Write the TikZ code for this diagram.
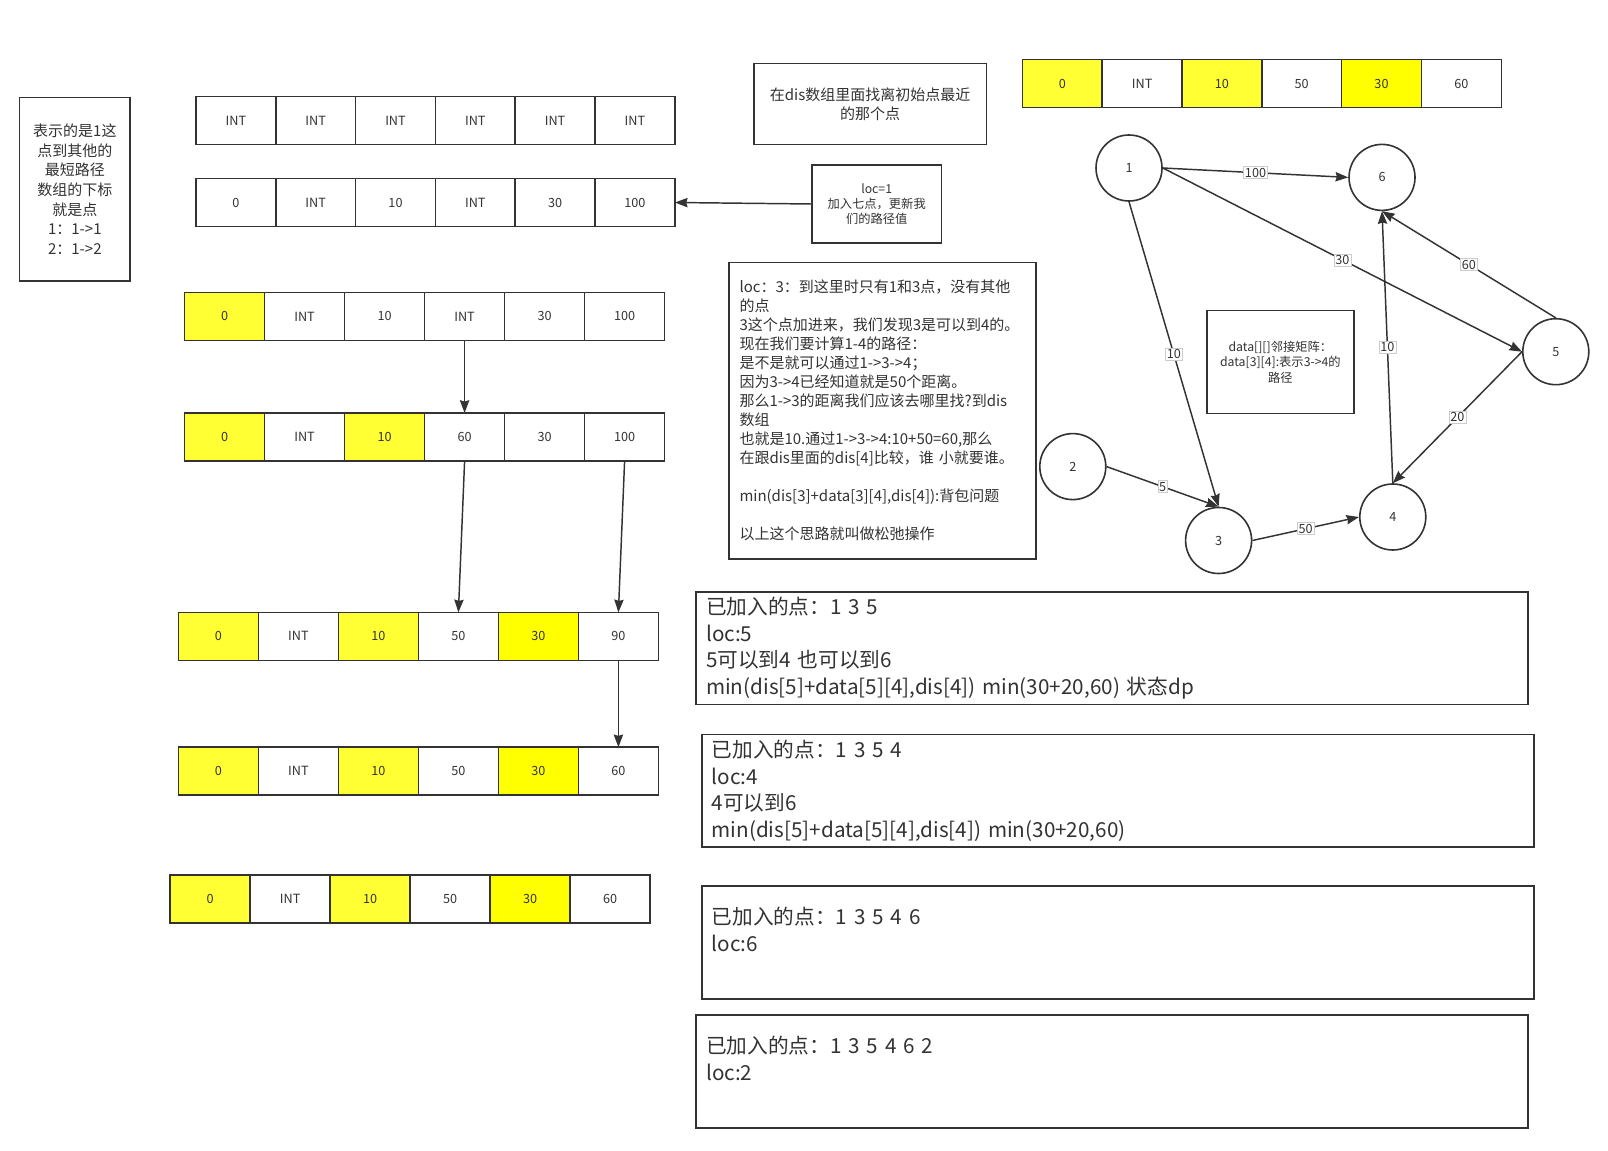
\documentclass[tikz,border=0pt]{standalone}
\usepackage{fontspec}
\setmainfont{Noto Sans CJK SC}
\usetikzlibrary{arrows.meta}
\definecolor{ink}{HTML}{333333}
\definecolor{yel}{HTML}{FFFF33}
\definecolor{yelb}{HTML}{FFFF00}

\begin{document}
\begin{tikzpicture}[x=0.75pt,y=-0.75pt,
      cell/.style={draw=ink, line width=1.2pt, minimum width=60pt, minimum height=36pt,
        inner sep=0pt, outer sep=0pt, text=ink, font=\fontsize{9.5pt}{11pt}\selectfont},
      vtx/.style={draw=ink, line width=1.2pt, circle, minimum size=49.5pt, inner sep=0pt,
        text=ink, font=\fontsize{9.5pt}{11pt}\selectfont},
      note/.style={draw=ink, line width=1.2pt, inner sep=0pt, text=ink, align=center},
      step box/.style={note, align=left, inner xsep=7.5pt, text width=609pt, minimum height=84.5pt,
        font=\fontsize{15.5pt}{20pt}\selectfont},
      arr/.style={draw=ink, line width=1.1pt, -{Stealth[length=9.5pt, width=7pt, inset=1pt]}},
      elab/.style={fill=white, draw=gray!40, line width=0.4pt, inner sep=1pt, text=ink,
        font=\fontsize{9.5pt}{10pt}\selectfont}]
    \path[use as bounding box, fill=white] (0,0) rectangle (1608,1151);

    \node[note, minimum width=83pt, minimum height=137.7pt, font=\fontsize{11.25pt}{14.8pt}\selectfont]
      (legend) at (74.85,189.2) {表示的是1这\\点到其他的\\最短路径\\数组的下标\\就是点\\1：1->1\\2：1->2};

    \foreach \v/\fc [count=\i] in {INT/white,INT/white,INT/white,INT/white,INT/white,INT/white}
      \node[cell, fill=\fc] (a\i) at ({196+(\i-0.5)*79.8},120.5) {\v};
    \foreach \v/\fc [count=\i] in {0/white,INT/white,10/white,INT/white,30/white,100/white}
      \node[cell, fill=\fc] (b\i) at ({196+(\i-0.5)*79.8},202.5) {\v};
    \foreach \v/\fc [count=\i] in {0/yel,INT/white,10/white,INT/white,30/white,100/white}
      \node[cell, fill=\fc] (c\i) at ({184.6+(\i-0.5)*80},316.4) {\v};
    \foreach \v/\fc [count=\i] in {0/yel,INT/white,10/yel,60/white,30/white,100/white}
      \node[cell, fill=\fc] (d\i) at ({184.6+(\i-0.5)*80},436.9) {\v};
    \foreach \v/\fc [count=\i] in {0/yel,INT/white,10/yel,50/white,30/yelb,90/white}
      \node[cell, fill=\fc] (e\i) at ({178.4+(\i-0.5)*80},636.3) {\v};
    \foreach \v/\fc [count=\i] in {0/yel,INT/white,10/yel,50/white,30/yelb,60/white}
      \node[cell, fill=\fc] (f\i) at ({178.4+(\i-0.5)*80},771.2) {\v};
    \foreach \v/\fc [count=\i] in {0/yel,INT/white,10/yel,50/white,30/yelb,60/white}
      \node[cell, fill=\fc] (g\i) at ({170.2+(\i-0.5)*80},898.9) {\v};
    \foreach \v/\fc [count=\i] in {0/yel,INT/white,10/yel,50/white,30/yelb,60/white}
      \node[cell, fill=\fc] (h\i) at ({1022.4+(\i-0.5)*79.8},83.6) {\v};

    \node[note, minimum width=174.6pt, minimum height=60.75pt, font=\fontsize{11.25pt}{14.6pt}\selectfont]
      (nearest) at (870.1,104.1) {在dis数组里面找离初始点最近\\的那个点};
    \node[note, minimum width=97pt, minimum height=58.5pt, font=\fontsize{9.2pt}{11.5pt}\selectfont]
      (loc1) at (876.7,204) {loc=1\\加入七点，更新我\\们的路径值};
    \node[note, align=left, inner xsep=7.8pt, text width=214.5pt, minimum height=222.4pt,
      font=\fontsize{11.25pt}{14.25pt}\selectfont] (loc3) at (882.5,410.75)
      {loc：3：到这里时只有1和3点，没有其他\\
       的点\\
       3这个点加进来，我们发现3是可以到4的。\\
       现在我们要计算1-4的路径：\\
       是不是就可以通过1->3->4；\\
       因为3->4已经知道就是50个距离。\\
       那么1->3的距离我们应该去哪里找?到dis\\
       数组\\
       也就是10.通过1->3->4:10+50=60,那么\\
       在跟dis里面的dis[4]比较，谁 小就要谁。\\
       \mbox{}\\
       min(dis[3]+data[3][4],dis[4]):背包问题\\
       \mbox{}\\
       以上这个思路就叫做松弛操作};
    \node[note, minimum width=110pt, minimum height=77pt, font=\fontsize{9.2pt}{11.5pt}\selectfont]
      (matrix) at (1280.35,362) {data[][]邻接矩阵：\\data[3][4]:表示3->4的\\路径};

    \node[vtx] (n1) at (1129,168) {1};
    \node[vtx] (n6) at (1382,177.4) {6};
    \node[vtx] (n5) at (1555.8,351.7) {5};
    \node[vtx] (n2) at (1072.8,466.6) {2};
    \node[vtx] (n3) at (1218.6,540.5) {3};
    \node[vtx] (n4) at (1392.8,517) {4};

    \draw[arr] (n1.east) -- node[elab] {100} (n6.west);
    \draw[arr] (n1.east) -- node[elab] {30} (n5.west);
    \draw[arr] (n1.south) -- node[elab] {10} (n3.north);
    \draw[arr] (n2.east) -- node[elab] {5} (n3.north);
    \draw[arr] (n3.east) -- node[elab] {50} (n4.west);
    \draw[arr] (n4.north) -- node[elab] {10} (n6.south);
    \draw[arr] (n5.north) -- node[elab] {60} (n6.south);
    \draw[arr] (n5.west) -- node[elab] {20} (n4.north);

    \node[step box] (s1) at (1112.15,648.1)
      {已加入的点：1 3 5\\loc:5\\5可以到4 也可以到6\\min(dis[5]+data[5][4],dis[4]) min(30+20,60) 状态dp};
    \node[step box] (s2) at (1117.75,790.65)
      {已加入的点：1 3 5 4\\loc:4\\4可以到6\\min(dis[5]+data[5][4],dis[4]) min(30+20,60)};
    \node[step box] (s3) at (1117.75,942.4) {已加入的点：1 3 5 4 6\\loc:6\\\mbox{}};
    \node[step box] (s4) at (1112.15,1071.6) {已加入的点：1 3 5 4 6 2\\loc:2\\\mbox{}};

    \draw[arr] (loc1.west) -- (b6.east);
    \draw[arr] (c4.south) -- (d4.north);
    \draw[arr] (d4.south) -- (e4.north);
    \draw[arr] (d6.south) -- (e6.north);
    \draw[arr] (e6.south) -- (f6.north);
\end{tikzpicture}
\end{document}
